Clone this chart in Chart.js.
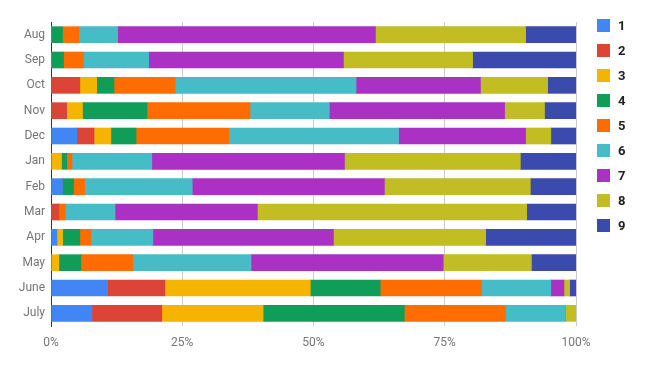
<!DOCTYPE html>
<html>
<head>
<meta charset="utf-8">
<script src="https://cdn.jsdelivr.net/npm/chart.js@4.4.1/dist/chart.umd.min.js"></script>
<style>
  body { margin: 0; background: #fff; }
  #wrap { position: relative; width: 656px; height: 371px; }
  #legend { position: absolute; left: 597px; top: 19px; font-family: Roboto, sans-serif; }
  .item { position: absolute; left: 0; height: 13px; white-space: nowrap; }
  .box { position: absolute; left: 0; top: 0; width: 13px; height: 13px; }
  .lbl { position: absolute; left: 21px; top: -1px; font-size: 13px; font-weight: bold; color: #222; }
</style>
</head>
<body>
<div id="wrap">
  <canvas id="monthChart"></canvas>
  <div id="legend"></div>
</div>
<script>
// Categories (top to bottom)
const months = ['Aug', 'Sep', 'Oct', 'Nov', 'Dec', 'Jan', 'Feb', 'Mar', 'Apr', 'May', 'June', 'July'];

// Series values (share of each month, percent)
const s1 = [0, 0, 0, 0, 4.9, 0, 2.2, 0, 1.1, 0, 10.8, 7.8];
const s2 = [0, 0, 5.5, 3.0, 3.3, 0, 0, 1.5, 0, 0, 10.9, 13.3];
const s3 = [0, 0, 3.2, 3.0, 3.2, 2.0, 0, 0, 1.1, 1.5, 27.7, 19.3];
const s4 = [2.2, 2.4, 3.3, 12.3, 4.8, 1.0, 2.1, 0, 3.3, 4.2, 13.3, 26.9];
const s5 = [3.1, 3.8, 11.7, 19.6, 17.7, 1.0, 2.1, 1.2, 2.1, 9.9, 19.3, 19.3];
const s6 = [7.4, 12.4, 34.4, 15.1, 32.3, 15.2, 20.5, 9.5, 11.8, 22.5, 13.2, 11.4];
const s7 = [49.1, 37.1, 23.7, 33.4, 24.2, 36.7, 36.6, 27.1, 34.4, 36.6, 2.5, 0];
const s8 = [28.6, 24.6, 12.8, 7.6, 4.8, 33.5, 27.8, 51.3, 29.0, 16.8, 1.1, 2.0];
const s9 = [9.6, 19.7, 5.4, 6.0, 4.8, 10.6, 8.7, 9.4, 17.2, 8.5, 1.2, 0];

const seriesLabels = ['1', '2', '3', '4', '5', '6', '7', '8', '9'];
const seriesData = [s1, s2, s3, s4, s5, s6, s7, s8, s9];
const seriesColors = ['#4285f4', '#db4437', '#f4b400', '#0f9d58', '#ff6d01', '#46bdc6', '#ab30c4', '#c2bd22', '#3a4bad'];

// Tick labels for the value axis
const xTicks = ['0%', '25%', '50%', '75%', '100%'];

// Normalise each month so the stack fills 100%
const totals = months.map((m, i) => seriesData.reduce((sum, s) => sum + s[i], 0));
const datasets = seriesData.map((s, k) => ({
  label: seriesLabels[k],
  data: s.map((v, i) => v / totals[i] * 100),
  backgroundColor: seriesColors[k],
  borderWidth: 0,
  barThickness: 16
}));

function initMonthChart(chartId) {
  const ctx = document.getElementById(chartId);
  if (!ctx) return null;

  return new Chart(ctx, {
    type: 'bar',
    data: { labels: months, datasets: datasets },
    options: {
      indexAxis: 'y',
      responsive: true,
      maintainAspectRatio: false,
      animation: false,
      layout: { padding: { top: 22, right: 80, left: 0, bottom: 0 } },
      plugins: {
        legend: { display: false },
        tooltip: { enabled: false }
      },
      scales: {
        x: {
          stacked: true,
          min: 0,
          max: 100,
          afterFit: scale => { scale.height = 45; },
          grid: { color: '#cccccc', drawTicks: false },
          border: { display: false },
          ticks: {
            stepSize: 25,
            padding: 10,
            color: '#757575',
            font: { family: 'Roboto', size: 12 },
            callback: (v) => xTicks[v / 25]
          }
        },
        y: {
          stacked: true,
          afterFit: scale => { scale.width = 51; },
          grid: { display: false, drawTicks: false },
          border: { display: true, color: '#333333', width: 1 },
          ticks: {
            padding: 6,
            color: '#757575',
            font: { family: 'Roboto', size: 12 }
          }
        }
      }
    }
  });
}

// Legend on the right
function buildLegend() {
  const legend = document.getElementById('legend');
  seriesLabels.forEach((name, k) => {
    const item = document.createElement('div');
    item.className = 'item';
    item.style.top = (k * 25) + 'px';
    item.innerHTML = '<span class="box" style="background:' + seriesColors[k] + '"></span><span class="lbl">' + name + '</span>';
    legend.appendChild(item);
  });
}

document.getElementById('wrap').style.height = '371px';
initMonthChart('monthChart');
buildLegend();
</script>
</body>
</html>
